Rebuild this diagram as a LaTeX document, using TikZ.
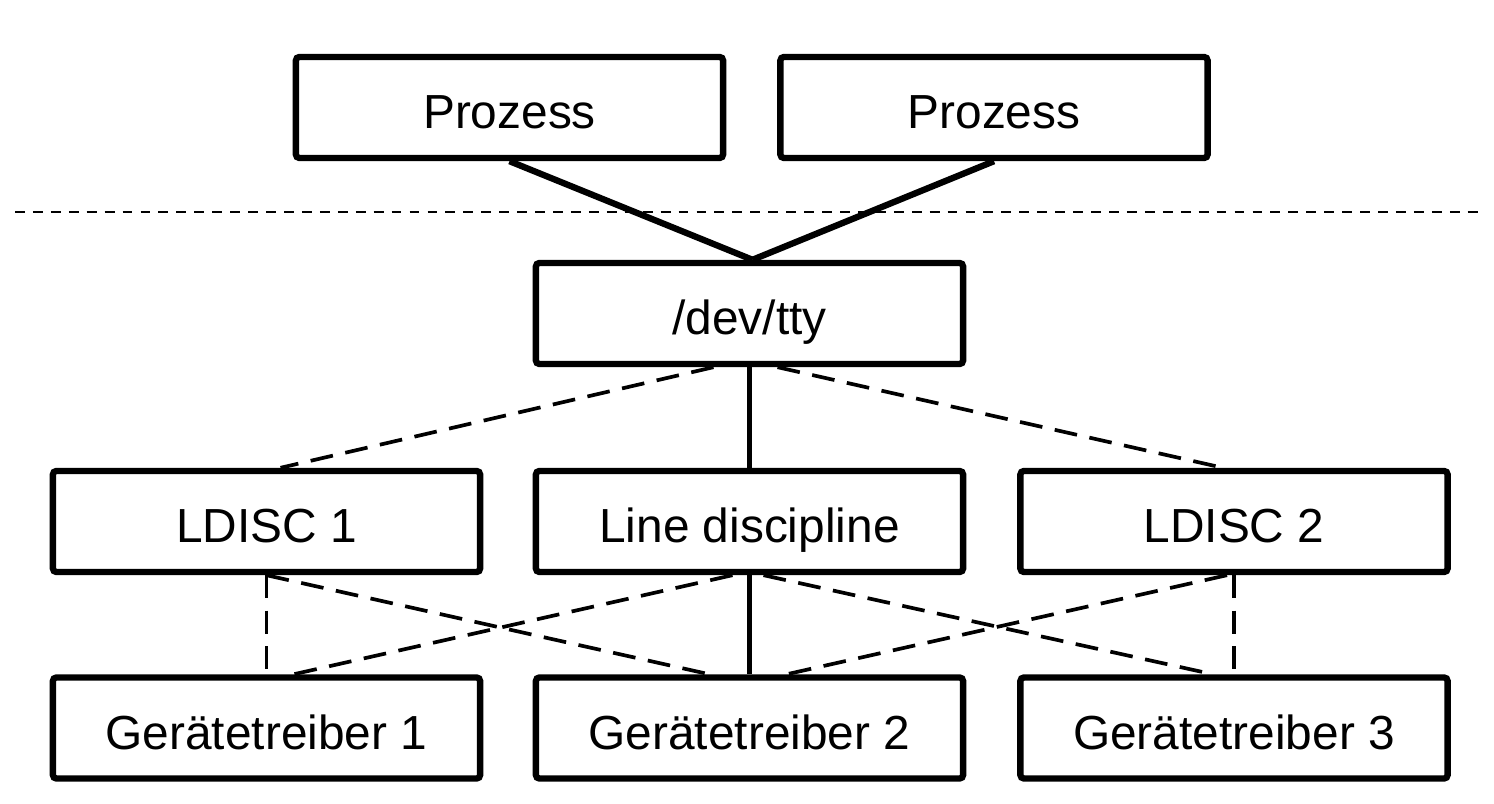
\documentclass[tikz,border=0pt]{standalone}
\usepackage{fontspec}
\setmainfont{Liberation Sans}
\tikzset{
  layer/.style={draw,line width=1.8pt,rounded corners=1pt,fill=white,
    minimum width=4.27cm,minimum height=1.01cm,inner sep=0pt,
    text height=14.5pt,text depth=2.3pt,
    font=\fontsize{13.6}{16}\selectfont},
  strong/.style={line width=1.8pt},
  main/.style={line width=1.2pt},
  alt/.style={line width=1.05pt,dash pattern=on 6.5pt off 3.6pt},
}
\begin{document}
\begin{tikzpicture}[x=0.01cm,y=-0.01cm]
\useasboundingbox (0,0) rectangle (1494,804);
% user space
\node[layer] (p1) at (509.5,107.5) {Prozess};
\node[layer] (p2) at (994,107.5) {Prozess};
% kernel / user boundary
\coordinate (sepL) at (15,212);
\coordinate (sepR) at (1478,212);
\draw[line width=0.8pt,dash pattern=on 2.8pt off 2.3pt] (sepL) -- (sepR);
% tty layer
\node[layer] (tty) at (749.5,313.5) {/dev/tty};
\node[layer] (ld1) at (266.5,521.5) {LDISC 1};
\node[layer] (ldisc) at (749.5,521.5) {Line discipline};
\node[layer] (ld2) at (1234,521.5) {LDISC 2};
\node[layer] (gt1) at (266.5,728) {Gerätetreiber 1};
\node[layer] (gt2) at (749.5,728) {Gerätetreiber 2};
\node[layer] (gt3) at (1234,728) {Gerätetreiber 3};
% processes to tty
\draw[strong] (p1.south) -- ([xshift=0.03cm]tty.north);
\draw[strong] (p2.south) -- ([xshift=0.03cm]tty.north);
% tty to line disciplines
\draw[main] (tty.south) -- (ldisc.north);
\draw[alt] ([xshift=-0.36cm]tty.south) -- ([xshift=0.14cm]ld1.north);
\draw[alt] ([xshift=0.28cm]tty.south) -- ([xshift=-0.11cm]ld2.north);
% line disciplines to drivers
\draw[main] (ldisc.south) -- (gt2.north);
\draw[alt] (ld1.south) -- (gt1.north);
\draw[alt] (ld1.south) -- ([xshift=-0.4cm]gt2.north);
\draw[alt] ([xshift=-0.17cm]ldisc.south) -- ([xshift=0.27cm]gt1.north);
\draw[alt] ([xshift=0.14cm]ldisc.south) -- ([xshift=-0.21cm]gt3.north);
\draw[alt] ([xshift=-0.07cm]ld2.south) -- ([xshift=0.37cm]gt2.north);
\draw[alt] (ld2.south) -- (gt3.north);
\end{tikzpicture}
\end{document}
